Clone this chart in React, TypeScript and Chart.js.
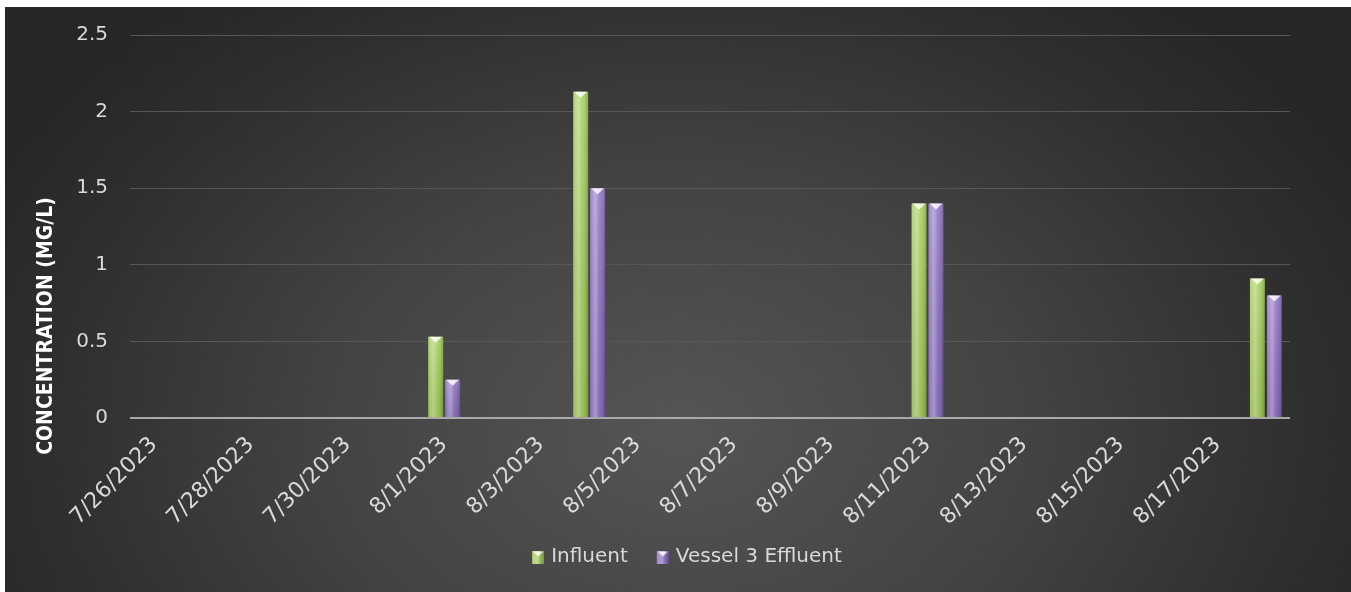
import React, { useEffect, useRef } from "react";
import { Chart, registerables } from "chart.js";

Chart.register(...registerables);

// Sampling dates (one category per day)
const dates: string[] = [
  "7/26/2023", "7/27/2023", "7/28/2023", "7/29/2023", "7/30/2023", "7/31/2023",
  "8/1/2023", "8/2/2023", "8/3/2023", "8/4/2023", "8/5/2023", "8/6/2023",
  "8/7/2023", "8/8/2023", "8/9/2023", "8/10/2023", "8/11/2023", "8/12/2023",
  "8/13/2023", "8/14/2023", "8/15/2023", "8/16/2023", "8/17/2023", "8/18/2023",
];

// Concentrations in mg/L (null = no sample that day)
const influent: (number | null)[] = [
  null, null, null, null, null, null,
  0.53, null, null, 2.13, null, null,
  null, null, null, null, 1.4, null,
  null, null, null, null, null, 0.91,
];
const vessel3Effluent: (number | null)[] = [
  null, null, null, null, null, null,
  0.25, null, null, 1.5, null, null,
  null, null, null, null, 1.4, null,
  null, null, null, null, null, 0.8,
];

const yTicks: number[] = [0, 0.5, 1, 1.5, 2, 2.5];
const yTitle = "CONCENTRATION (MG/L)";

const GREEN = "#9dca4c";
const PURPLE = "#8566bd";
const TEXT = "#d9d9d9";
const FONT = "'DejaVu Sans', sans-serif";
const TITLE_FONT = "bold 21px 'Liberation Sans Narrow', 'DejaVu Sans Condensed', sans-serif";

// Legend swatch: a bevelled square sitting at the right end of a transparent strip
function makeMarker(color: string): HTMLCanvasElement {
  const c = document.createElement("canvas");
  c.width = 33;
  c.height = 13;
  const g = c.getContext("2d")!;
  const x0 = 21;
  g.fillStyle = color;
  g.fillRect(x0, 0, 12, 13);
  const grad = g.createLinearGradient(x0, 0, x0 + 12, 0);
  grad.addColorStop(0, "rgba(255,255,255,0.25)");
  grad.addColorStop(0.45, "rgba(255,255,255,0.35)");
  grad.addColorStop(1, "rgba(0,0,0,0.25)");
  g.fillStyle = grad;
  g.fillRect(x0, 0, 12, 13);
  g.fillStyle = "rgba(255,255,255,0.85)";
  g.beginPath();
  g.moveTo(x0 + 1, 1);
  g.lineTo(x0 + 11, 1);
  g.lineTo(x0 + 6, 6);
  g.closePath();
  g.fill();
  return c;
}

// Gives each bar a soft cylindrical shine and a bevelled top
const barShine = {
  id: "barShine",
  afterDatasetsDraw(chart: any) {
    const ctx = chart.ctx as CanvasRenderingContext2D;
    chart.data.datasets.forEach((_ds: any, di: number) => {
      const meta = chart.getDatasetMeta(di);
      meta.data.forEach((el: any, i: number) => {
        const v = chart.data.datasets[di].data[i];
        if (v == null) return;
        const { x, y, base, width } = el.getProps(["x", "y", "base", "width"], true);
        const left = x - width / 2;
        const right = x + width / 2;
        ctx.save();
        const hg = ctx.createLinearGradient(left, 0, right, 0);
        hg.addColorStop(0, "rgba(255,255,255,0.12)");
        hg.addColorStop(0.35, "rgba(255,255,255,0.40)");
        hg.addColorStop(0.65, "rgba(255,255,255,0.08)");
        hg.addColorStop(1, "rgba(0,0,0,0.22)");
        ctx.fillStyle = hg;
        ctx.fillRect(left, y, width, base - y);
        const vg = ctx.createLinearGradient(0, y, 0, base);
        vg.addColorStop(0, "rgba(255,255,255,0.12)");
        vg.addColorStop(1, "rgba(0,0,0,0.08)");
        ctx.fillStyle = vg;
        ctx.fillRect(left, y, width, base - y);
        ctx.fillStyle = "rgba(255,255,255,0.8)";
        ctx.beginPath();
        ctx.moveTo(left + 1, y);
        ctx.lineTo(right - 1, y);
        ctx.lineTo(x, y + 6);
        ctx.closePath();
        ctx.fill();
        ctx.restore();
      });
    });
  },
};

// Vertical axis title, sitting toward the lower part of the axis
const axisTitle = {
  id: "axisTitle",
  afterDraw(chart: any) {
    const ctx = chart.ctx as CanvasRenderingContext2D;
    const area = chart.chartArea;
    ctx.save();
    ctx.translate(42, area.bottom - 92);
    ctx.rotate(-Math.PI / 2);
    ctx.font = TITLE_FONT;
    ctx.fillStyle = "#ffffff";
    ctx.textAlign = "center";
    ctx.textBaseline = "middle";
    ctx.fillText(yTitle, 0, 0);
    ctx.restore();
  },
};

export default function App() {
  const ref = useRef<HTMLCanvasElement | null>(null);

  useEffect(() => {
    if (!ref.current) return;
    const markers = [makeMarker(GREEN), makeMarker(PURPLE)];
    const chart = new Chart(ref.current, {
      type: "bar",
      data: {
        labels: dates,
        datasets: [
          { label: "Influent", data: influent, backgroundColor: GREEN },
          { label: "Vessel 3 Effluent", data: vessel3Effluent, backgroundColor: PURPLE },
        ],
      },
      options: {
        animation: false,
        responsive: false,
        maintainAspectRatio: false,
        datasets: { bar: { categoryPercentage: 0.7, barPercentage: 0.88 } },
        layout: { padding: { top: 28, right: 0, bottom: 15, left: 0 } },
        plugins: {
          tooltip: { enabled: false },
          legend: {
            position: "bottom",
            labels: {
              color: TEXT,
              font: { family: FONT, size: 20 },
              usePointStyle: true,
              pointStyleWidth: 27,
              boxWidth: 27,
              boxHeight: 12,
              padding: 11,
              generateLabels(c: any) {
                const items = Chart.defaults.plugins.legend.labels.generateLabels(c);
                items.forEach((it: any, i: number) => {
                  it.pointStyle = markers[i];
                  it.fontColor = TEXT;
                });
                return items;
              },
            },
          },
        },
        scales: {
          x: {
            grid: { display: false },
            border: { display: false },
            afterFit(scale: any) {
              scale.height = 118;
            },
            ticks: {
              autoSkip: false,
              minRotation: 45,
              maxRotation: 45,
              padding: 6,
              color: TEXT,
              font: { family: FONT, size: 22 },
              callback: (_v: any, i: number) => (i % 2 === 0 ? dates[i] : ""),
            },
          },
          y: {
            min: 0,
            max: 2.5,
            afterFit(scale: any) {
              scale.width = 125;
            },
            afterBuildTicks(scale: any) {
              scale.ticks = yTicks.map((v) => ({ value: v }));
            },
            border: { display: false },
            grid: {
              drawTicks: true,
              tickLength: 16,
              tickColor: "rgba(0,0,0,0)",
              color: (c: any) => (c.tick && c.tick.value === 0 ? "#a9a9a9" : "#575757"),
              lineWidth: (c: any) => (c.tick && c.tick.value === 0 ? 2 : 1),
            },
            ticks: {
              padding: 6,
              color: TEXT,
              font: { family: FONT, size: 20 },
              callback: (v: any) => String(v),
            },
          },
          // empty margin on the right of the plot
          edge: {
            type: "linear",
            position: "right",
            display: true,
            grid: { display: false },
            border: { display: false },
            ticks: { display: false },
            afterFit(scale: any) {
              scale.width = 61;
            },
          },
        },
      },
      plugins: [barShine, axisTitle],
    });
    return () => chart.destroy();
  }, []);

  return (
    <div
      style={{
        position: "fixed",
        left: 5,
        top: 7,
        width: 1346,
        height: 585,
        background:
          "radial-gradient(ellipse 58% 95% at 50% 72%, #555555 0%, #434343 45%, #2f2f2f 80%, #262626 100%)",
      }}
    >
      <canvas ref={ref} width={1346} height={585} style={{ display: "block" }} />
    </div>
  );
}
